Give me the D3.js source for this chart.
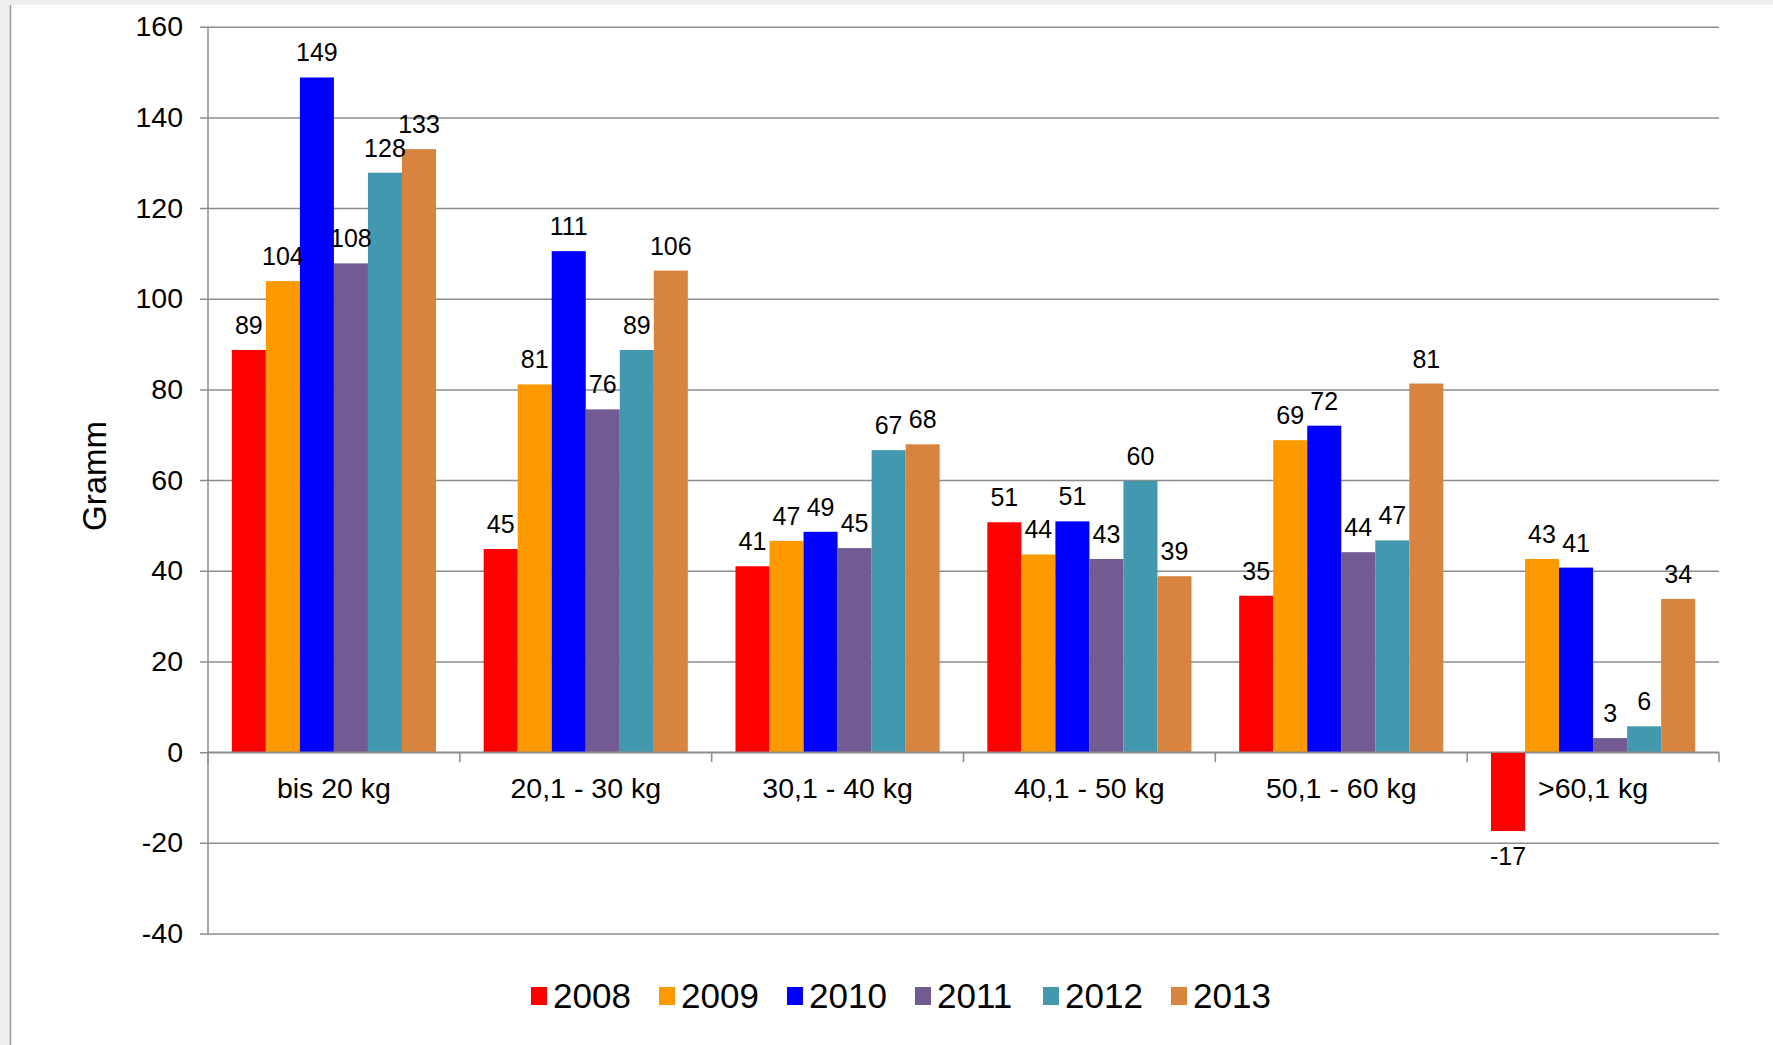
<!DOCTYPE html>
<html>
<head>
<meta charset="utf-8">
<script src="https://cdn.jsdelivr.net/npm/d3@7"></script>
<style>
    body { margin: 0; background: #fff; }
    text { font-family: Arial, "Liberation Sans", sans-serif; fill: #000; }
</style>
</head>
<body>
<div id="chart"></div>
<script>
/* * * * * * * * * * * * * *
*      Grouped bar chart    *
* * * * * * * * * * * * * */

// data
let categories = ["bis 20 kg", "20,1 - 30 kg", "30,1 - 40 kg", "40,1 - 50 kg", "50,1 - 60 kg", ">60,1 kg"];
let years = ["2008", "2009", "2010", "2011", "2012", "2013"];
let values2008 = [88.7, 44.8, 41.0, 50.7, 34.5, -17.4];
let values2009 = [103.9, 81.1, 46.6, 43.6, 68.8, 42.6];
let values2010 = [148.8, 110.5, 48.6, 50.9, 72.0, 40.7];
let values2011 = [107.8, 75.6, 45.0, 42.6, 44.1, 3.1];
let values2012 = [127.8, 88.7, 66.6, 59.8, 46.7, 5.7];
let values2013 = [133.0, 106.2, 67.9, 38.8, 81.3, 33.8];
let yTicks = [-40, -20, 0, 20, 40, 60, 80, 100, 120, 140, 160];
let colors = ["#ff0000", "#ff9900", "#0000ff", "#725a93", "#4299af", "#d9843e"];

let seriesValues = [values2008, values2009, values2010, values2011, values2012, values2013];

let width = 1773, height = 1045;
let plot = {left: 208, right: 1719, top: 26.7, bottom: 933.5};

let svg = d3.select("#chart").append("svg")
    .attr("width", width)
    .attr("height", height);

// frame: light grey strip at top and left
svg.append("rect").attr("x", 0).attr("y", 0).attr("width", width).attr("height", 5).attr("fill", "#eeeeee");
svg.append("rect").attr("x", 0).attr("y", 0).attr("width", 10).attr("height", height).attr("fill", "#eeeeee");
svg.append("line").attr("x1", 10.5).attr("x2", 10.5).attr("y1", 5).attr("y2", height)
    .attr("stroke", "#999").attr("stroke-width", 1.5);

// scales
let y = d3.scaleLinear()
    .domain([-40, 160])
    .range([plot.bottom, plot.top]);

let x0 = d3.scaleBand()
    .domain(categories)
    .range([plot.left, plot.right])
    .padding(0);

let x1 = d3.scaleBand()
    .domain(years)
    .range([0, x0.bandwidth()])
    .paddingInner(0)
    .paddingOuter(0.7);

let color = d3.scaleOrdinal().domain(years).range(colors);

// gridlines + y axis (plain hyphen for negatives, like the original)
let yAxis = d3.axisLeft(y)
    .tickValues(yTicks)
    .tickSize(-(plot.right - plot.left))
    .tickPadding(25)
    .tickFormat(d => String(d));

let gy = svg.append("g")
    .attr("transform", `translate(${plot.left},0)`)
    .call(yAxis);
gy.select(".domain").remove();
gy.selectAll(".tick line")
    .attr("x1", -8)
    .attr("stroke", "#8c8c8c")
    .attr("stroke-width", 1.5);
gy.selectAll(".tick text")
    .attr("font-size", 28.5)
    .attr("font-family", "Arial, 'Liberation Sans', sans-serif")
    .attr("fill", "#000");

svg.append("line")
    .attr("x1", plot.left).attr("x2", plot.left)
    .attr("y1", plot.top).attr("y2", plot.bottom)
    .attr("stroke", "#8c8c8c").attr("stroke-width", 1.5);

// bars
let rows = categories.map((c, i) => ({
    category: c,
    bars: years.map((yr, j) => ({year: yr, value: seriesValues[j][i]}))
}));

let groups = svg.selectAll(".group")
    .data(rows)
    .enter().append("g")
    .attr("class", "group")
    .attr("transform", d => `translate(${x0(d.category)},0)`);

groups.selectAll("rect")
    .data(d => d.bars)
    .enter().append("rect")
    .attr("x", d => x1(d.year))
    .attr("width", x1.bandwidth())
    .attr("y", d => y(Math.max(0, d.value)))
    .attr("height", d => Math.abs(y(d.value) - y(0)))
    .attr("fill", d => color(d.year));

// value labels
groups.selectAll(".val")
    .data(d => d.bars)
    .enter().append("text")
    .attr("class", "val")
    .attr("x", d => x1(d.year) + x1.bandwidth() / 2)
    .attr("y", d => d.value >= 0 ? y(d.value) - 16 : y(d.value) + 34)
    .attr("text-anchor", "middle")
    .attr("font-size", 25)
    .text(d => String(Math.round(d.value)));

// category axis on the zero line
let xAxis = d3.axisBottom(x0).tickSize(0).tickPadding(0);
let gx = svg.append("g")
    .attr("transform", `translate(0,${y(0)})`)
    .call(xAxis);
gx.select(".domain").remove();
gx.selectAll(".tick text")
    .attr("y", 46)
    .attr("dy", 0)
    .attr("font-size", 28.5)
    .attr("font-family", "Arial, 'Liberation Sans', sans-serif")
    .attr("fill", "#000");

svg.append("line")
    .attr("x1", plot.left).attr("x2", plot.right)
    .attr("y1", y(0)).attr("y2", y(0))
    .attr("stroke", "#8c8c8c").attr("stroke-width", 1.5);

let boundaries = categories.map(c => x0(c)).concat([plot.right]);
svg.selectAll(".ctick")
    .data(boundaries)
    .enter().append("line")
    .attr("class", "ctick")
    .attr("x1", d => d).attr("x2", d => d)
    .attr("y1", y(0)).attr("y2", y(0) + 10)
    .attr("stroke", "#8c8c8c").attr("stroke-width", 1.5);

// y axis title
svg.append("text")
    .attr("transform", `translate(94,476) rotate(-90)`)
    .attr("text-anchor", "middle")
    .attr("dominant-baseline", "central")
    .attr("font-size", 33)
    .text("Gramm");

// legend
let legend = svg.append("g").attr("transform", "translate(531,987)");
let item = legend.selectAll(".item")
    .data(years)
    .enter().append("g")
    .attr("class", "item")
    .attr("transform", (d, i) => `translate(${i * 128},0)`);
item.append("rect")
    .attr("width", 16).attr("height", 18)
    .attr("fill", d => color(d));
item.append("text")
    .attr("x", 22).attr("y", 21)
    .attr("font-size", 35)
    .text(d => d);
</script>
</body>
</html>
